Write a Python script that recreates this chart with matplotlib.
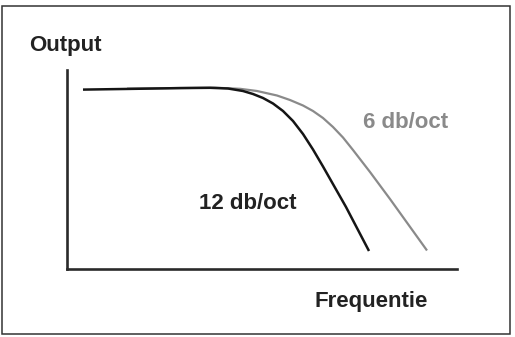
import matplotlib
matplotlib.use("Agg")
import matplotlib.pyplot as plt
from matplotlib.patches import Rectangle

plt.rcParams["font.family"] = ["Liberation Sans", "DejaVu Sans"]

# 12 db/oct curve (zwart)
freq_12 = [16, 63, 113, 143, 161, 176, 186, 196, 206, 216, 226, 236, 246,
           256, 279, 302]
output_12 = [179.4, 180.1, 180.9, 181.2, 180.5, 178, 175, 171, 165.5, 158,
             148, 135, 119.5, 102.5, 62, 18]

# 6 db/oct curve (grijs)
freq_6 = [60, 113, 148, 173, 190, 210, 223, 236, 246, 256, 266, 276, 286,
          303, 323, 360]
output_6 = [180.4, 181, 181.3, 180.2, 178, 173.5, 169, 163.5, 158, 151, 142,
            131.5, 119, 97, 70, 18.5]

labels = {"x": "Frequentie", "y": "Output", "c12": "12 db/oct", "c6": "6 db/oct"}

W, H = 515, 337
fig = plt.figure(figsize=(W / 100, H / 100), dpi=100)

# kader rond de figuur
fig.patches.append(Rectangle((1.5 / W, 3 / H), 508.5 / W, 328 / H,
                             transform=fig.transFigure, fill=False,
                             edgecolor="#333333", linewidth=1.1))

ax = fig.add_axes([67 / W, (H - 269) / H, (457 - 67) / W, (269 - 70) / H])
ax.set_xlim(0, 390)
ax.set_ylim(0, 199)
ax.patch.set_alpha(0)
for side in ["top", "right"]:
    ax.spines[side].set_visible(False)
for side in ["left", "bottom"]:
    ax.spines[side].set_linewidth(1.9)
    ax.spines[side].set_color("#2a2a2a")
    ax.spines[side].set_capstyle("projecting")
ax.set_xticks([])
ax.set_yticks([])

ax.plot(freq_6, output_6, color="#8a8a8a", linewidth=1.6,
        solid_joinstyle="round", solid_capstyle="butt")
ax.plot(freq_12, output_12, color="#151515", linewidth=1.8,
        solid_joinstyle="round", solid_capstyle="butt")

fs = 16
ax.text(132, 59.7, labels["c12"], fontsize=fs, fontweight="bold",
        color="#222222", ha="left", va="baseline")
ax.text(296, 140.7, labels["c6"], fontsize=fs, fontweight="bold",
        color="#8a8a8a", ha="left", va="baseline")

fig.text(29.5 / W, 1 - 51.3 / H, labels["y"], fontsize=fs, fontweight="bold",
         color="#222222", ha="left", va="baseline")
fig.text(315 / W, 1 - 307 / H, labels["x"], fontsize=fs, fontweight="bold",
         color="#222222", ha="left", va="baseline")

fig.savefig("out.png", dpi=100)
